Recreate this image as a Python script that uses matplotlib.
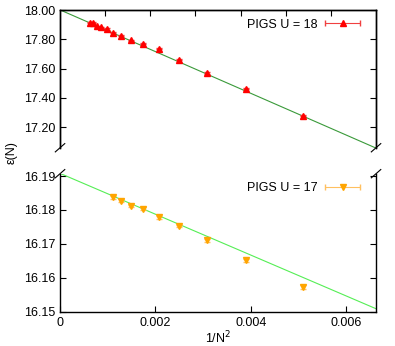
import numpy as np
import matplotlib.pyplot as plt
from matplotlib.legend_handler import HandlerErrorbar

plt.rcParams['font.family'] = ['Liberation Sans', 'DejaVu Sans']
plt.rcParams['font.size'] = 9

# Données
N = np.array([40, 38, 36, 34, 32, 30, 28, 26, 24, 22, 20, 18, 16, 14])
inv_N2 = 1.0 / N**2

e18 = np.array([17.913, 17.913, 17.888, 17.883, 17.870, 17.844, 17.826,
                17.794, 17.769, 17.737, 17.662, 17.570, 17.463, 17.278])
err18 = np.array([0.004, 0.004, 0.004, 0.004, 0.004, 0.004, 0.004,
                  0.004, 0.004, 0.004, 0.004, 0.004, 0.004, 0.004])

N17 = np.array([30, 28, 26, 24, 22, 20, 18, 16, 14])
inv_N2_17 = 1.0 / N17**2
e17 = np.array([16.1837, 16.1827, 16.1812, 16.1804, 16.1778, 16.1753,
                16.1711, 16.1652, 16.1573])
err17 = np.array([0.0004, 0.0004, 0.0004, 0.0004, 0.0004, 0.0004,
                  0.0004, 0.0004, 0.0005])

# Ajustements linéaires
fit18 = (18.001, -142.3)
fit17 = (16.1908, -6.02)

xmax = 0.00663

fig = plt.figure(figsize=(3.95, 3.46), dpi=100)
ax1 = fig.add_axes([0.152, 0.573, 0.800, 0.398])
ax2 = fig.add_axes([0.152, 0.099, 0.800, 0.399])

xx = np.linspace(0, xmax, 50)

# Panneau haut
ax1.plot(xx, fit18[0] + fit18[1] * xx, color='#3a9a3a', lw=0.8)
ax1.errorbar(inv_N2, e18, yerr=err18, fmt='^', color='#ff0000', ms=4,
             ecolor='#f04040', elinewidth=0.8, capsize=2)
h18 = ax1.errorbar([np.nan], [np.nan], xerr=[1.0], fmt='^', color='#ff0000',
                   ms=4, ecolor='#f04040', elinewidth=0.8, capsize=2.5)
ax1.set_xlim(0, xmax)
ax1.set_ylim(17.06, 18.00)
ax1.set_yticks([17.2, 17.4, 17.6, 17.8, 18.0])
ax1.set_yticklabels(['%.2f' % v for v in [17.2, 17.4, 17.6, 17.8, 18.0]])
ax1.set_xticks([])
ax1.spines['bottom'].set_visible(False)
ax1.tick_params(direction='in', length=4, right=True, labelsize=9)
top = ax1.twiny()
top.set_xlim(0, 0.007)
top.set_xticks(np.arange(0.001, 0.0065, 0.001))
top.set_xticklabels([])
top.tick_params(direction='in', length=4)
top.spines['bottom'].set_visible(False)

# Panneau bas
ax2.plot(xx, fit17[0] + fit17[1] * xx, color='#55ee55', lw=0.8)
ax2.errorbar(inv_N2_17, e17, yerr=err17, fmt='v', color='#ffa500', ms=4,
             ecolor='#ffc060', elinewidth=0.8, capsize=2)
h17 = ax2.errorbar([np.nan], [np.nan], xerr=[1.0], fmt='v', color='#ffa500',
                   ms=4, ecolor='#ffc060', elinewidth=0.8, capsize=2.5)
ax2.set_xlim(0, xmax)
ax2.set_ylim(16.15, 16.1907)
ax2.set_yticks([16.15, 16.16, 16.17, 16.18, 16.19])
ax2.set_yticklabels(['%.2f' % v for v in [16.15, 16.16, 16.17, 16.18, 16.19]])
ax2.set_xticks([0, 0.002, 0.004, 0.006])
ax2.set_xticklabels(['0', '0.002', '0.004', '0.006'])
ax2.spines['top'].set_visible(False)
ax2.tick_params(direction='in', length=4, right=True, labelsize=9)
ax2.set_xlabel('1/N$^2$', labelpad=1)

for ax in (ax1, ax2, top):
    for s in ax.spines.values():
        s.set_linewidth(1.0)

for ax, h, lab in ((top, h18, 'PIGS U = 18'), (ax2, h17, 'PIGS U = 17')):
    ax.legend([h], [lab], loc='upper right', bbox_to_anchor=(0.98, 1.0),
              frameon=False, markerfirst=False,
              handlelength=2.9, borderaxespad=0.3, handletextpad=0.6,
              handler_map={type(h): HandlerErrorbar(xerr_size=1.4)})

# Marques de rupture
d = 0.012
kw = dict(transform=fig.transFigure, color='k', lw=0.8, clip_on=False)
for xp in (0.152, 0.952):
    for yp in (0.573, 0.498):
        fig.add_artist(plt.Line2D([xp - d, xp + d], [yp - d, yp + d], **kw))

fig.text(0.03, 0.56, 'ε(N)', rotation=90, ha='center', va='center', fontsize=9)

fig.savefig('out.png', dpi=100)
